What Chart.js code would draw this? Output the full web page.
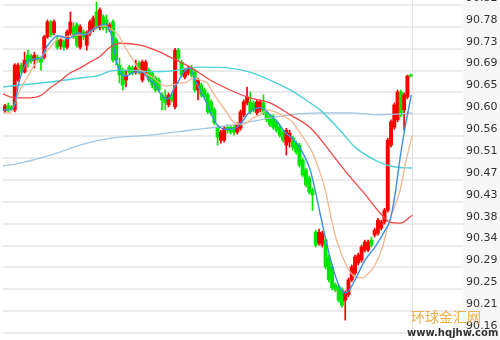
<!DOCTYPE html>
<html>
<head>
<meta charset="utf-8">
<script src="https://cdn.jsdelivr.net/npm/chart.js@4"></script>
<style>
  html, body { margin: 0; padding: 0; background: #fff; }
</style>
</head>
<body>
<canvas id="kChart" width="500" height="340"></canvas>
<script>
// K线数据 (open / high / low / close)
const opens = [90.609,90.619,90.617,90.611,90.671,90.701,90.687,90.721,90.719,90.711,
  90.717,90.715,90.717,90.758,90.788,90.766,90.752,90.739,90.748,90.737,
  90.766,90.778,90.782,90.737,90.768,90.741,90.766,90.772,90.808,90.776,
  90.798,90.792,90.772,90.788,90.752,90.701,90.691,90.671,90.697,90.695,
  90.687,90.705,90.671,90.685,90.691,90.685,90.675,90.671,90.641,90.637,
  90.621,90.641,90.617,90.731,90.707,90.677,90.685,90.697,90.687,90.651,
  90.661,90.651,90.641,90.627,90.611,90.576,90.550,90.550,90.576,90.576,
  90.576,90.566,90.574,90.601,90.625,90.627,90.625,90.605,90.611,90.625,
  90.605,90.597,90.597,90.587,90.576,90.566,90.540,90.546,90.554,90.544,
  90.540,90.510,90.490,90.474,90.450,90.365,90.343,90.339,90.349,90.315,
  90.295,90.259,90.255,90.249,90.228,90.239,90.269,90.283,90.303,90.309,
  90.329,90.329,90.349,90.359,90.363,90.373,90.385,90.409,90.540,90.576,
  90.591,90.647,90.611,90.637,90.681];
const highs = [90.622,90.625,90.620,90.704,90.705,90.705,90.727,90.731,90.723,90.727,
  90.721,90.719,90.761,90.792,90.791,90.792,90.760,90.756,90.752,90.772,
  90.808,90.786,90.786,90.782,90.772,90.770,90.792,90.800,90.828,90.816,
  90.802,90.802,90.786,90.792,90.756,90.715,90.695,90.691,90.701,90.699,
  90.711,90.709,90.711,90.711,90.695,90.689,90.679,90.675,90.645,90.651,
  90.645,90.645,90.735,90.735,90.711,90.695,90.699,90.701,90.691,90.675,
  90.665,90.655,90.645,90.631,90.615,90.580,90.570,90.578,90.581,90.580,
  90.580,90.585,90.611,90.631,90.657,90.647,90.629,90.631,90.631,90.641,
  90.609,90.601,90.601,90.591,90.580,90.570,90.574,90.570,90.558,90.548,
  90.544,90.514,90.494,90.478,90.454,90.369,90.371,90.367,90.353,90.319,
  90.299,90.263,90.259,90.253,90.247,90.273,90.299,90.319,90.323,90.339,
  90.349,90.349,90.355,90.373,90.393,90.389,90.413,90.554,90.591,90.625,
  90.651,90.651,90.645,90.681,90.683];
const lows = [90.606,90.607,90.609,90.607,90.668,90.684,90.685,90.697,90.705,90.695,
  90.707,90.691,90.713,90.755,90.758,90.762,90.733,90.733,90.731,90.733,
  90.762,90.754,90.737,90.733,90.752,90.731,90.760,90.768,90.774,90.772,
  90.772,90.766,90.768,90.707,90.701,90.665,90.651,90.657,90.683,90.681,
  90.683,90.683,90.667,90.681,90.667,90.655,90.647,90.647,90.611,90.611,
  90.617,90.627,90.613,90.711,90.677,90.673,90.681,90.677,90.647,90.631,
  90.637,90.633,90.603,90.601,90.581,90.540,90.544,90.546,90.564,90.562,
  90.560,90.562,90.570,90.597,90.621,90.603,90.607,90.601,90.607,90.601,
  90.587,90.577,90.572,90.566,90.556,90.546,90.520,90.536,90.530,90.522,
  90.496,90.476,90.456,90.442,90.409,90.335,90.339,90.335,90.291,90.265,
  90.249,90.245,90.224,90.214,90.188,90.235,90.265,90.279,90.299,90.305,
  90.325,90.325,90.335,90.355,90.359,90.369,90.381,90.405,90.536,90.572,
  90.587,90.597,90.570,90.633,90.677];
const closes = [90.619,90.611,90.613,90.701,90.701,90.687,90.711,90.707,90.709,90.721,
  90.711,90.707,90.758,90.788,90.762,90.788,90.737,90.752,90.737,90.768,
  90.788,90.758,90.741,90.778,90.758,90.766,90.788,90.796,90.778,90.812,
  90.776,90.776,90.782,90.711,90.711,90.681,90.661,90.679,90.687,90.685,
  90.697,90.687,90.707,90.707,90.671,90.661,90.651,90.651,90.631,90.625,
  90.641,90.631,90.731,90.715,90.681,90.691,90.695,90.681,90.651,90.671,
  90.641,90.637,90.607,90.605,90.585,90.556,90.566,90.574,90.570,90.566,
  90.566,90.581,90.607,90.627,90.637,90.607,90.611,90.627,90.627,90.605,
  90.591,90.581,90.576,90.570,90.560,90.550,90.570,90.564,90.536,90.526,
  90.500,90.480,90.460,90.446,90.440,90.339,90.365,90.363,90.295,90.269,
  90.253,90.249,90.228,90.218,90.243,90.269,90.295,90.315,90.319,90.335,
  90.345,90.345,90.339,90.369,90.389,90.385,90.409,90.550,90.587,90.621,
  90.647,90.601,90.641,90.679,90.679];

// 均线 (读自图上, x 为K线序号)
const ma5X = [-0.6,1.5,3.1,4.0,5.2,6.7,8.6,11.3,12.2,13.8,16.2,17.7,19.0,20.5,22.3,24.5,26.6,28.4,30.6,31.5,
  32.7,33.6,34.6,35.8,36.7,39.8,41.9,43.7,45.9,48.0,49.5,50.5,51.7,52.9,54.4,56.6,58.1,59.6,61.2,62.7,
  64.2,65.7,67.3,69.4,70.9,72.5,74.0,75.8,77.4,78.6,80.1,81.7,83.5,85.6,87.8,89.6,91.7,93.3,94.8,96.3,
  97.9,99.4,100.9,102.4,104.0,105.5,107.0,110.1,113.1,116.2,117.7,119.3,120.8,122.3,124.2];
const ma5 = [90.611,90.611,90.625,90.657,90.687,90.707,90.713,90.715,90.731,90.747,90.760,90.758,90.754,90.758,90.766,90.762,90.772,90.778,90.784,90.778,
  90.758,90.725,90.697,90.681,90.679,90.687,90.687,90.675,90.661,90.639,90.633,90.637,90.655,90.667,90.685,90.695,90.671,90.651,90.631,90.607,
  90.587,90.576,90.572,90.572,90.576,90.587,90.601,90.611,90.615,90.615,90.607,90.597,90.585,90.566,90.554,90.540,90.516,90.490,90.450,90.403,
  90.355,90.313,90.279,90.253,90.243,90.251,90.269,90.309,90.335,90.369,90.389,90.444,90.516,90.576,90.641];

const ma10X = [-0.6,1.5,3.1,4.6,6.7,8.6,10.7,12.2,13.8,15.9,17.7,19.9,22.9,26.0,27.5,30.6,32.7,34.6,36.7,38.8,
  40.7,42.8,45.0,46.8,48.9,51.1,53.5,55.7,57.5,59.6,61.8,63.6,65.7,67.9,69.7,71.9,74.0,75.8,78.0,80.1,
  82.6,85.6,87.8,89.6,91.7,93.9,95.7,97.9,99.4,100.9,102.4,104.0,105.5,107.0,109.2,111.0,113.1,115.3,117.1,119.3,
  120.8,122.3,124.5];
const ma10 = [90.605,90.605,90.625,90.651,90.675,90.697,90.715,90.725,90.737,90.752,90.756,90.760,90.762,90.766,90.776,90.780,90.772,90.762,90.737,90.715,
  90.695,90.685,90.677,90.667,90.659,90.661,90.665,90.667,90.675,90.671,90.665,90.645,90.625,90.605,90.587,90.581,90.585,90.595,90.601,90.611,
  90.607,90.597,90.587,90.570,90.550,90.526,90.496,90.450,90.403,90.359,90.329,90.303,90.285,90.275,90.273,90.281,90.299,90.333,90.379,90.420,
  90.450,90.500,90.560];

const ma30X = [-0.6,3.1,7.6,10.7,13.8,16.8,19.9,22.9,26.0,29.1,32.1,35.2,41.3,47.4,50.5,56.6,62.7,68.8,74.9,81.0,
  87.2,93.3,97.9,100.9,105.5,110.7,114.7,117.7,120.8,124.5];
const ma30 = [90.643,90.635,90.635,90.639,90.655,90.669,90.685,90.695,90.707,90.719,90.737,90.745,90.741,90.727,90.717,90.697,90.671,90.651,90.635,90.625,
  90.601,90.575,90.540,90.514,90.476,90.436,90.403,90.385,90.383,90.399];

const ma60X = [-0.6,4.6,13.8,22.9,29.1,32.1,38.2,44.3,50.5,59.6,68.8,74.9,81.0,87.2,93.3,96.3,102.4,107.0,113.1,119.3,124.5];
const ma60 = [90.657,90.661,90.667,90.675,90.681,90.689,90.691,90.688,90.689,90.697,90.695,90.687,90.671,90.651,90.625,90.611,90.570,90.536,90.510,90.496,90.494];

const ma120X = [-0.6,4.6,10.7,16.8,22.9,29.1,35.2,44.3,56.6,68.8,78.0,87.2,96.3,105.5,114.7,120.8,124.5];
const ma120 = [90.498,90.504,90.514,90.526,90.540,90.550,90.556,90.560,90.570,90.580,90.591,90.601,90.605,90.605,90.601,90.603,90.605];

// 右侧价格刻度
const tickLabels = ['90.16','90.21','90.25','90.29','90.34','90.38','90.43','90.47',
  '90.51','90.56','90.60','90.65','90.69','90.73','90.78','90.82'];
const tickStart = 90.162, tickStep = 0.044;

const UP = '#ff0000', DOWN = '#00e600';
const candleColor = c => closes[c.dataIndex] >= opens[c.dataIndex] ? UP : DOWN;

function maLine(xs, ys, color, width) {
  return {
    type: 'line',
    data: xs.map((x, i) => ({ x: x, y: ys[i] })),
    borderColor: color,
    borderWidth: width,
    pointRadius: 0,
    fill: false,
    cubicInterpolationMode: 'monotone',
    order: 0
  };
}

const decor = {
  id: 'decor',
  beforeDraw(chart) {
    const { ctx, chartArea: a, width, height } = chart;
    ctx.save();
    ctx.fillStyle = '#f7f7f7';
    ctx.fillRect(a.right, 0, width - a.right, height);
    ctx.restore();
  },
  beforeDatasetsDraw(chart) {
    const { ctx, chartArea: a, scales } = chart;
    const x = Math.round(scales.x.getPixelForValue(opens.length - 1 + 0.3)) + 0.5;
    ctx.save();
    ctx.strokeStyle = '#e2e2e2';
    ctx.lineWidth = 1;
    ctx.beginPath();
    ctx.moveTo(x, a.top);
    ctx.lineTo(x, a.bottom);
    ctx.stroke();
    ctx.restore();
  },
  afterDraw(chart) {
    const ctx = chart.ctx;
    ctx.save();
    ctx.textBaseline = 'middle';
    ctx.textAlign = 'left';
    ctx.font = '14px "Noto Sans CJK SC"';
    ctx.fillStyle = '#eab04c';
    ctx.fillText('环球金汇网', 411, 317);
    ctx.font = 'bold 10px "DejaVu Sans"';
    ctx.fillStyle = '#333';
    ctx.fillText('www.hqjhw.com', 407, 333);
    ctx.restore();
  }
};

new Chart(document.getElementById('kChart').getContext('2d'), {
  type: 'bar',
  data: {
    datasets: [
      maLine(ma5X, ma5, '#3f8fe8', 1.4),
      maLine(ma10X, ma10, '#f2b68e', 1.3),
      maLine(ma30X, ma30, '#f04848', 1.3),
      maLine(ma60X, ma60, '#4fd2d8', 1.4),
      maLine(ma120X, ma120, '#a3c6e2', 1.3),
      {
        // 实体
        data: opens.map((o, i) => ({ x: i, y: [o, closes[i]] })),
        backgroundColor: candleColor,
        borderWidth: 0,
        grouped: false,
        barPercentage: 1,
        categoryPercentage: 1,
        maxBarThickness: 3.6,
        minBarLength: 1,
        order: 1
      },
      {
        // 影线
        data: lows.map((l, i) => ({ x: i, y: [l, highs[i]] })),
        backgroundColor: candleColor,
        borderWidth: 0,
        grouped: false,
        barPercentage: 1,
        categoryPercentage: 1,
        maxBarThickness: 1,
        order: 2
      }
    ]
  },
  options: {
    responsive: false,
    animation: false,
    events: [],
    layout: { padding: { left: 3, right: 0, top: 0, bottom: 0 } },
    plugins: { legend: { display: false }, tooltip: { enabled: false } },
    scales: {
      x: {
        type: 'linear',
        display: false,
        offset: false,
        min: -0.6,
        max: 140
      },
      y: {
        position: 'right',
        min: 90.148,
        max: 90.832,
        afterBuildTicks: s => {
          s.ticks = tickLabels.map((t, k) => ({ value: tickStart + k * tickStep }));
        },
        afterFit: s => {
          s.width = 37;
          s.paddingTop = 0;
          s.paddingBottom = 0;
        },
        border: { display: false },
        grid: { color: '#ebebeb', lineWidth: 2, drawTicks: false },
        ticks: {
          autoSkip: false,
          padding: 3,
          labelOffset: -7,
          color: '#333',
          font: { family: 'DejaVu Sans', size: 11 },
          callback: (v, idx) => tickLabels[idx]
        }
      }
    }
  },
  plugins: [decor]
});
</script>
</body>
</html>
